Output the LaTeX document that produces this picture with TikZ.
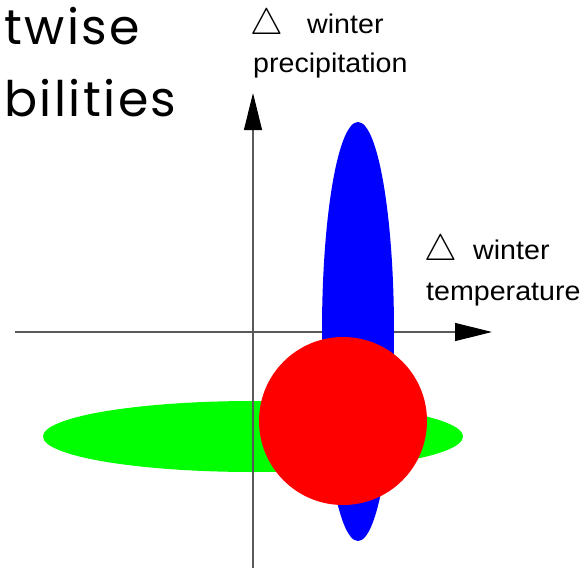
\documentclass[tikz,border=0pt]{standalone}
\usepackage{fontspec}
\usetikzlibrary{arrows.meta}
\newfontfamily\titlefont[Ligatures={NoCommon,NoRare,NoContextual},LetterSpace=5]{Poppins}
\newfontfamily\labfont[FakeStretch=1.06]{Liberation Sans}
\tikzset{
  axisline/.style={draw=black!65, line width=1.1pt},
  axtip/.style={-{Triangle[length=37pt,width=18pt,color=black]}},
  titletext/.style={anchor=base west, inner sep=0pt, font=\titlefont\fontsize{49}{49}\selectfont},
  labtext/.style={anchor=base west, inner sep=0pt, font=\labfont\fontsize{27}{27}\selectfont},
  tri/.style={anchor=base west, inner sep=0pt, font=\fontsize{24.88}{25}\selectfont}
}
\begin{document}
\begin{tikzpicture}[x=1pt,y=-1pt]
\useasboundingbox (0,0) rectangle (587,568);
% green ellipse (under axes)
\fill[green] (253,436.5) ellipse [x radius=210, y radius=35.5];
% axes
\coordinate (ybot) at (253,568);
\coordinate (ytop) at (253,93);
\coordinate (xl) at (15,332);
\coordinate (xr) at (492,332);
\draw[axisline, axtip] (ybot) -- (ytop);
\draw[axisline, axtip] (xl) -- (xr);
% blue ellipse and red circle
\fill[blue] (358,331.5) ellipse [x radius=36, y radius=209.5];
\fill[red] (343,421) circle [radius=84];
% title fragments
\node[titletext] (t1) at (4,44) {twise};
\node[titletext] (t2) at (4,116) {bilities};
% axis labels
\node[tri] (pt) at (250,34) {\scalebox{1.48}{$\triangle$}};
\node[labtext] (pw) at (307,33) {winter};
\node[labtext] (pp) at (253,72) {precipitation};
\node[tri] (tt) at (424,260) {\scalebox{1.48}{$\triangle$}};
\node[labtext] (tw) at (473,259) {winter};
\node[labtext] (tp) at (426,300) {temperature};
\end{tikzpicture}
\end{document}
